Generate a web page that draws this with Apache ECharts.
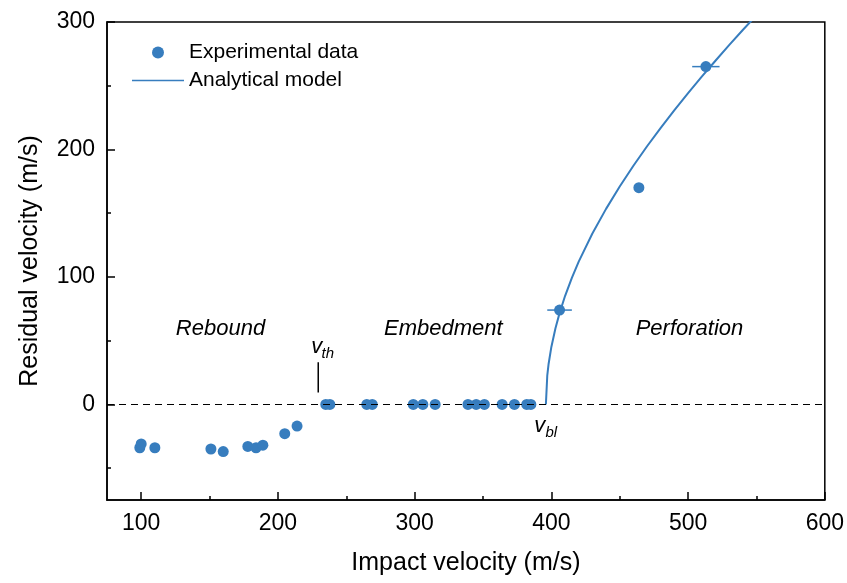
<!DOCTYPE html>
<html>
<head>
<meta charset="utf-8">
<script src="https://cdn.jsdelivr.net/npm/echarts@6/dist/echarts.min.js"></script>
<style>html,body{margin:0;padding:0;background:#fff}#c{width:847px;height:583px}</style>
</head>
<body>
<div id="c"></div>
<script>
// Experimental data (impact velocity, residual velocity)
const expVi = [99, 100, 110, 151, 160, 178, 184, 189, 205, 214, 235, 238, 265, 269, 299, 306, 315, 339, 345, 351, 364, 373, 382, 385, 406, 464, 513];
const expVr = [-34, -31, -34, -35, -37, -33, -34, -32, -23, -17, 0, 0, 0, 0, 0, 0, 0, 0, 0, 0, 0, 0, 0, 0, 74, 170, 265];
// Horizontal error bars
const errVi = [406, 513];
const errVr = [74, 265];
const errHalf = [9, 10];
// Analytical model curve
const modelVi = [396, 397, 398, 400, 403, 406, 410, 415, 420, 430, 440, 450, 460, 470, 480, 490, 500, 510, 520, 530, 540, 550];
const modelVr = [0, 22.5, 31.9, 45.1, 59.8, 71.6, 85.0, 99.3, 112.0, 134.1, 153.4, 171.0, 187.2, 202.5, 217.0, 230.9, 244.2, 257.1, 269.6, 281.8, 293.7, 305.3];
// Threshold marker line
const vthLineX = [229.5, 229.5];
const vthLineY = [9.4, 33];
// Annotations
const regionLabels = ['Rebound', 'Embedment', 'Perforation'];
const regionX = [158, 321, 501];
const regionY = [59.5, 59.5, 59.5];
const symLetters = ['v', 'v'];
const symX = [228.5, 391.5];
const symY = [45, -17];
const subLabels = ['th', 'bl'];
const subX = [236.5, 400];
const subY = [39.5, -22.5];
// Ticks
const xTicks = [100, 200, 300, 400, 500, 600];
const xMinorTicks = [150, 250, 350, 450, 550];
const yTicks = [0, 100, 200, 300];
const yMinorTicks = [-50, 50, 150, 250];

const blue = '#377dbe';
const chart = echarts.init(document.getElementById('c'));
const zip = (a, b) => a.map((v, i) => [v, b[i]]);
const ff = 'Liberation Sans, Arial, sans-serif';
const axisFont = {fontFamily: ff, fontSize: 23, color: '#000'};
const nameFont = {fontFamily: ff, fontSize: 25, color: '#000'};

function xAx(ticks, len, main) {
  return {
    type: 'value', min: 75, max: 600, position: 'bottom',
    name: main ? 'Impact velocity (m/s)' : '', nameLocation: 'middle', nameGap: 51,
    nameTextStyle: nameFont,
    axisLine: {show: main, onZero: false, lineStyle: {color: '#000', width: 1.5}},
    axisTick: {show: true, inside: true, length: len, lineStyle: {color: '#000', width: 1.5}, customValues: ticks},
    axisLabel: Object.assign({show: main, margin: 12, customValues: ticks}, axisFont),
    splitLine: {show: false}
  };
}
function yAx(ticks, len, main) {
  return {
    type: 'value', min: -75, max: 300, position: 'left',
    name: main ? 'Residual velocity (m/s)' : '', nameLocation: 'middle', nameGap: 64,
    nameTextStyle: nameFont,
    axisLine: {show: main, onZero: false, lineStyle: {color: '#000', width: 1.5}},
    axisTick: {show: true, inside: true, length: len, lineStyle: {color: '#000', width: 1.5}, customValues: ticks},
    axisLabel: Object.assign({show: main, margin: 12, customValues: ticks}, axisFont),
    splitLine: {show: false}
  };
}
function textSeries(labels, xs, ys, size) {
  return {
    type: 'scatter', symbolSize: 0, z: 6, silent: true, itemStyle: {opacity: 1},
    data: labels.map((t, i) => ({value: [xs[i], ys[i]], label: {formatter: t}})),
    label: {show: true, position: 'inside', color: '#000', fontStyle: 'italic',
      fontFamily: ff, fontSize: size}
  };
}

chart.setOption({
  animation: false,
  grid: {left: 107, right: 22, top: 22, bottom: 83, show: true, borderColor: '#000', borderWidth: 1.5, backgroundColor: 'transparent'},
  legend: {
    orient: 'vertical', left: 127, top: 37, itemWidth: 52, itemHeight: 12, itemGap: 7,
    textStyle: {fontFamily: ff, fontSize: 21, color: '#000'},
    data: [
      {name: 'Experimental data', icon: 'circle'},
      {name: 'Analytical model', icon: 'path://M0,0 L50,0 L50,1.6 L0,1.6 Z'}
    ]
  },
  xAxis: [xAx(xTicks, 8, true), xAx(xMinorTicks, 4, false)],
  yAxis: [yAx(yTicks, 8, true), yAx(yMinorTicks, 4, false)],
  series: [
    {
      name: 'Experimental data', type: 'scatter', symbol: 'circle', symbolSize: 11,
      itemStyle: {color: blue, opacity: 1}, data: zip(expVi, expVr), z: 3,
      markLine: {
        silent: true, symbol: 'none', label: {show: false},
        lineStyle: {color: '#000', type: [7, 5], width: 1.2},
        data: [{yAxis: 0}]
      }
    },
    {
      name: 'Analytical model', type: 'line', symbol: 'none', showSymbol: false,
      lineStyle: {color: blue, width: 2}, itemStyle: {color: blue},
      data: zip(modelVi, modelVr), z: 4, clip: true
    },
    {
      type: 'custom', z: 5,
      data: errVi.map((v, i) => [v, errVr[i], errHalf[i]]),
      renderItem: function (params, api) {
        const p1 = api.coord([api.value(0) - api.value(2), api.value(1)]);
        const p2 = api.coord([api.value(0) + api.value(2), api.value(1)]);
        return {type: 'line', shape: {x1: p1[0], y1: p1[1], x2: p2[0], y2: p2[1]},
          style: {stroke: blue, lineWidth: 1.5}};
      }
    },
    {
      type: 'line', symbol: 'none', lineStyle: {color: '#000', width: 1.5},
      data: zip(vthLineX, vthLineY), z: 4
    },
    textSeries(regionLabels, regionX, regionY, 22),
    textSeries(symLetters, symX, symY, 22),
    textSeries(subLabels, subX, subY, 15)
  ]
});
</script>
</body>
</html>
